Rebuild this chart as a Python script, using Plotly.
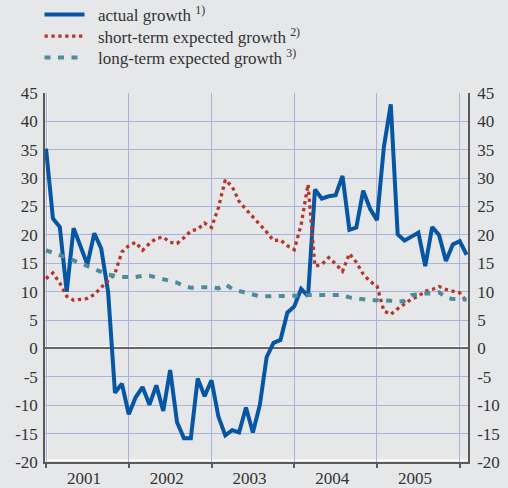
import plotly.graph_objects as go

# Monthly data, Jan 2001 .. Feb 2006
years = ["2001", "2002", "2003", "2004", "2005"]
actual = [
    35.2, 22.9, 21.4, 10.0, 21.2, 18.0, 14.8, 20.3, 17.6, 10.0, -7.8, -6.2,
    -11.6, -8.6, -6.8, -9.9, -6.5, -11.0, -3.8, -13.0, -15.8, -15.8, -5.3, -8.4,
    -5.6, -12.0, -15.3, -14.4, -14.8, -10.4, -14.8, -10.0, -1.5, 1.0, 1.5, 6.3,
    7.4, 10.5, 9.2, 28.0, 26.4, 26.8, 27.0, 30.4, 20.9, 21.3, 27.8, 24.6,
    22.6, 35.5, 43.0, 20.1, 19.0, 19.7, 20.4, 14.5, 21.4, 20.0, 15.4, 18.3,
    18.9, 16.5,
]
short_term = [
    12.3, 13.3, 11.5, 9.2, 8.5, 8.6, 8.8, 9.5, 10.8, 11.9, 13.2, 17.0,
    18.1, 18.7, 17.3, 18.5, 19.4, 19.6, 18.7, 18.5, 19.5, 20.7, 21.0, 22.1,
    21.3, 24.8, 29.7, 28.5, 25.9, 24.5, 23.2, 22.0, 20.5, 19.0, 19.1, 18.1,
    17.4, 21.8, 28.9, 14.5, 14.8, 16.0, 14.9, 13.6, 16.7, 15.2, 13.1, 11.8,
    11.0, 6.6, 6.0, 7.0, 7.9, 8.7, 9.2, 10.1, 10.4, 10.9, 10.4, 10.1,
    9.8, 8.3,
]
long_term = [
    17.3, 16.9, 16.4, 16.0, 15.5, 15.0, 14.4, 14.0, 13.5, 13.0, 12.8, 12.6,
    12.6, 12.6, 12.8, 12.8, 12.5, 12.2, 12.0, 11.6, 11.0, 10.7, 10.8, 10.8,
    10.8, 10.6, 11.3, 10.5, 10.1, 9.8, 9.5, 9.2, 9.2, 9.2, 9.2, 9.2,
    9.2, 9.3, 9.4, 9.4, 9.5, 9.5, 9.5, 9.4, 9.0, 8.8, 8.6, 8.5,
    8.5, 8.5, 8.4, 8.2, 8.4, 9.4, 9.6, 9.7, 9.7, 9.9, 9.0, 8.7,
    8.7, 8.6,
]
y_ticks = [45, 40, 35, 30, 25, 20, 15, 10, 5, 0, -5, -10, -15, -20]
y_ticktext = [str(v) for v in y_ticks]

months = list(range(len(actual)))
year_mid = [i * 12 + 5.5 for i in range(len(years))]
year_bounds = [i * 12 for i in range(len(years) + 1)]
x_range = [-0.15, 61.2]
y_range = [-20, 45]

font_family = "Liberation Serif, Times New Roman, DejaVu Serif, serif"
text_color = "#333333"
bg = "#e6e7e9"
grid = "#a7b3dc"
axis_col = "#5a5a5a"
gap = "\u00a0\u00a0"

fig = go.Figure()
fig.add_trace(go.Scatter(
    x=months, y=actual, mode="lines", name=gap + "actual growth <sup>1)</sup>",
    line=dict(color="#0656a3", width=4), legend="legend",
))
fig.add_trace(go.Scatter(
    x=months, y=short_term, mode="lines", name=gap + "short-term expected growth <sup>2)</sup>",
    line=dict(color="#b5352c", width=3.3, dash="3.3px,3.6px"), legend="legend2",
))
fig.add_trace(go.Scatter(
    x=months, y=long_term, mode="lines", name=gap + "long-term expected growth <sup>3)</sup>",
    line=dict(color="#4f8c9a", width=4, dash="6px,7.5px"), legend="legend3",
))
# invisible trace to activate right axis
fig.add_trace(go.Scatter(x=[months[0]], y=[actual[0]], yaxis="y2", mode="lines",
                         line=dict(width=0), showlegend=False, hoverinfo="skip"))

# subtle white highlight lines next to axes / zero line
fig.add_shape(type="line", xref="paper", x0=0, x1=1, yref="y", ysizemode="pixel",
              yanchor=0, y0=1.6, y1=1.6, line=dict(color="white", width=1.5), layer="below")
fig.add_shape(type="line", xref="paper", x0=0, x1=1, yref="y", ysizemode="pixel",
              yanchor=y_range[0], y0=1.8, y1=1.8, line=dict(color="white", width=1.5), layer="below")
fig.add_shape(type="line", yref="paper", y0=0, y1=1, xref="x", xsizemode="pixel",
              xanchor=x_range[0], x0=1.8, x1=1.8, line=dict(color="white", width=1.5), layer="below")

leg_common = dict(xanchor="left", yanchor="middle", bgcolor="rgba(0,0,0,0)",
                  font=dict(size=17, family=font_family, color=text_color),
                  itemwidth=40)
plot_h = 488 - 93 - 26
leg_x = -0.013


def row_y(py):
    return (488 - 26 - py) / plot_h


fig.update_layout(
    width=508, height=488,
    margin=dict(l=45, r=40, t=93, b=26, autoexpand=False),
    paper_bgcolor=bg, plot_bgcolor=bg,
    font=dict(family=font_family, color=text_color, size=17),
    showlegend=True,
    legend=dict(x=leg_x, y=row_y(15), **leg_common),
    legend2=dict(x=leg_x, y=row_y(36.5), **leg_common),
    legend3=dict(x=leg_x, y=row_y(58), **leg_common),
    xaxis=dict(
        range=x_range, automargin=False,
        tickmode="array", tickvals=year_mid, ticktext=years,
        ticks="", showgrid=False, zeroline=False, ticklabelstandoff=0,
        showline=True, linecolor=axis_col, linewidth=1.5,
        tickfont=dict(size=17, family=font_family, color=text_color),
        minor=dict(tickmode="array", tickvals=year_bounds, showgrid=True,
                   gridcolor=grid, gridwidth=1, ticks="outside", ticklen=4,
                   tickcolor=axis_col, tickwidth=1.5),
    ),
    yaxis=dict(
        range=y_range, automargin=False,
        tickmode="array", tickvals=y_ticks, ticktext=y_ticktext,
        showgrid=True, gridcolor=grid, gridwidth=1,
        zeroline=True, zerolinecolor="#666666", zerolinewidth=1.8,
        showline=True, linecolor=axis_col, linewidth=1.5,
        ticks="", ticklabelstandoff=2,
        tickfont=dict(size=17, family=font_family, color=text_color),
    ),
    yaxis2=dict(
        range=y_range, automargin=False,
        tickmode="array", tickvals=y_ticks, ticktext=y_ticktext,
        overlaying="y", side="right", showgrid=False, zeroline=False,
        showline=True, linecolor=axis_col, linewidth=1.5,
        ticks="", ticklabelstandoff=4,
        tickfont=dict(size=17, family=font_family, color=text_color),
    ),
)

fig.write_html(
    "out.html",
    config={"displayModeBar": False},
    post_script="document.body.style.margin='0';document.body.style.background='%s';" % bg,
)
